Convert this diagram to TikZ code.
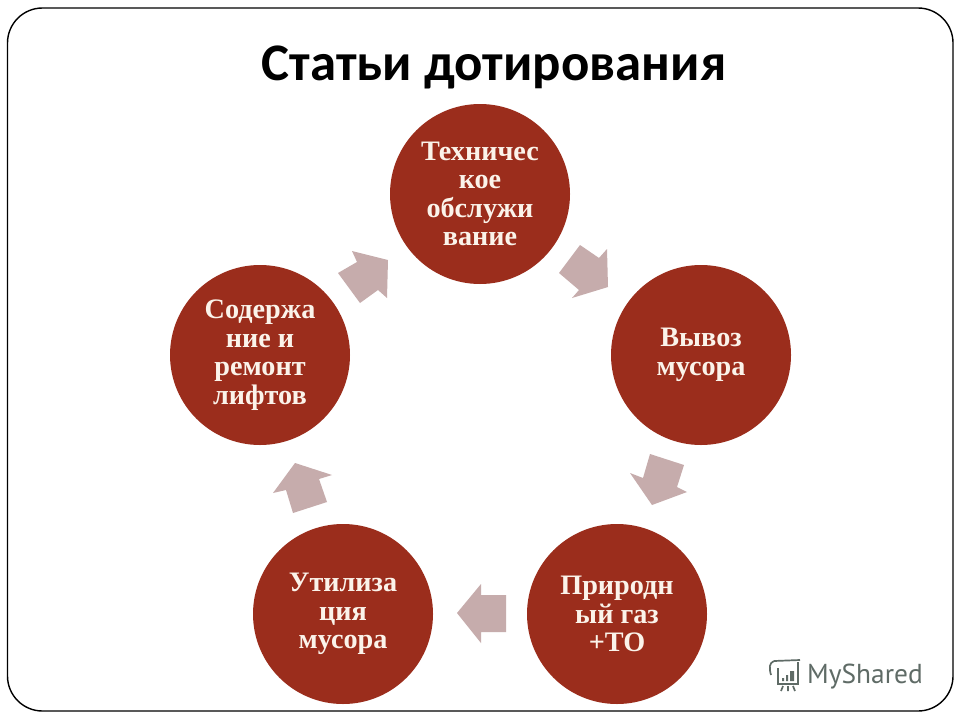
\documentclass[tikz,border=0pt]{standalone}
\usepackage{fontspec}
\setmainfont{Liberation Serif}
\newfontfamily\titlefont{Carlito}
\newfontfamily\markfont{PT Sans}
\definecolor{disc}{HTML}{9B2D1C}
\definecolor{blockarrow}{HTML}{C6ACAC}
\definecolor{cream}{HTML}{FBF3EA}
\definecolor{markgrey}{HTML}{5F6B66}
\tikzset{
  x=1pt,y=-1pt,
  frame/.style={draw=black,line width=1.4pt,rounded corners=35pt},
  topic/.style={circle,fill=disc,minimum size=180pt,inner sep=0pt,align=center,text=cream,
    font=\fontsize{28.2}{28.6}\selectfont\bfseries},
  blockshape/.style={fill=blockarrow,draw=none},
  heading/.style={font=\titlefont\fontsize{52.8}{56}\selectfont\bfseries,text=black,inner sep=0pt},
  marktext/.style={font=\markfont\fontsize{27.4}{30}\selectfont,text=markgrey,inner sep=0pt,anchor=west},
  markline/.style={draw=markgrey,line width=1.7pt}
}
\begin{document}
\begin{tikzpicture}
\useasboundingbox (0,0) rectangle (960,720);
\fill[white] (0,0) rectangle (960,720);
\draw[frame] (7.5,8) rectangle (953,711);
\node[heading] (title) at (494,67) {Статьи дотирования};
\node[topic] (tech) at (480,194) {Техничес\\кое\\обслужи\\вание};
\node[topic] (waste) at (701,355) {Вывоз\\мусора};
\node[topic] (gas) at (617,614) {Природн\\ый газ\\+ТО};
\node[topic] (util) at (343,614) {Утилиза\\ция\\мусора};
\node[topic] (lift) at (260,355) {Содержа\\ние и\\ремонт\\лифтов};
\fill[blockshape] (580,245) -- (599,258) -- (607,249) -- (608,287) -- (572,298) -- (579,290) -- (559,273) -- cycle;
\fill[blockshape] (650,454) -- (684,465) -- (677,487) -- (687,492) -- (652,505) -- (630,473) -- (643,478) -- cycle;
\fill[blockshape] (506,595) -- (506,632) -- (481,632) -- (481,643) -- (457,613) -- (481,584) -- (481,595) -- cycle;
\fill[blockshape] (327,502) -- (293,513) -- (286,490) -- (273,493) -- (295,463) -- (332,475) -- (319,479) -- cycle;
\fill[blockshape] (338,273) -- (360,303) -- (378,290) -- (387,298) -- (388,260) -- (352,251) -- (357,262) -- cycle;
\node[marktext] (brand) at (807,677) {MyShared};
\draw[markline] (774,661) -- (800,660) (778,668) -- (778,684) -- (798,684) -- (798,662);
\draw[markline] (774,661) .. controls (769,663) and (769,668) .. (771,675);
\draw[markline] (783,686) -- (781,691) (788,686) -- (788,691) (793,686) -- (795,691);
\fill[markgrey] (782,678) rectangle (784,681) (786,675) rectangle (788,681) (790,671) rectangle (794,681);
\end{tikzpicture}
\end{document}
